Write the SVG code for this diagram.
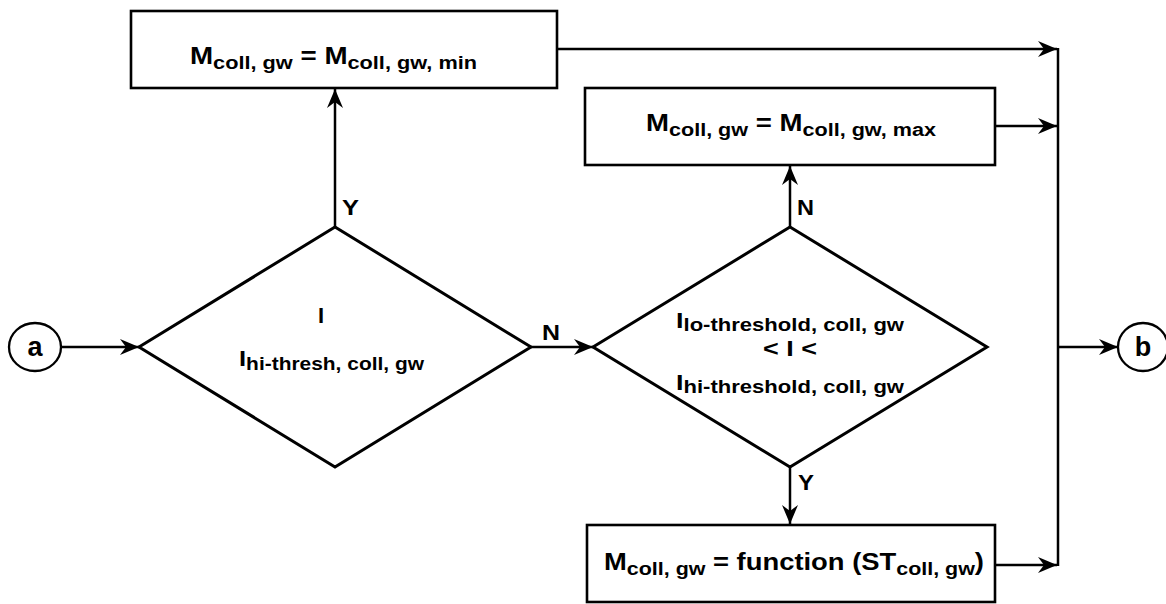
<svg xmlns="http://www.w3.org/2000/svg" width="1166" height="604" viewBox="0 0 1166 604">
  <style>
    .box { fill: #fff; stroke: #000; stroke-width: 2.6; }
    .dia { fill: none; stroke: #000; stroke-width: 3; stroke-linejoin: miter; }
    .conn { fill: none; stroke: #000; stroke-width: 2.5; }
    .term { fill: #fff; stroke: #000; stroke-width: 2.3; }
    .t { font-family: "Liberation Sans", Arial, Helvetica, sans-serif; font-weight: bold; fill: #000; }
    .m { font-size: 23px; }
    .d { font-size: 22px; }
    .s { font-size: 18px; }
    .lbl { font-size: 22px; }
    .c { font-size: 27px; text-anchor: middle; }
  </style>
  <defs>
    <marker id="ah" viewBox="-20 -9 21 18" refX="0" refY="0" markerWidth="21" markerHeight="18" markerUnits="userSpaceOnUse" orient="auto">
      <path d="M0,0 L-19,-8 L-13,0 L-19,8 Z" fill="#000"/>
    </marker>
  </defs>

  <rect width="1166" height="604" fill="#fff"/>

  <!-- flow lines and branch labels -->
  <g id="connectors">
    <path class="conn" d="M61,347 H139" marker-end="url(#ah)"/>
    <path class="conn" d="M335,227 V89" marker-end="url(#ah)"/>
    <path class="conn" d="M531,347 H593" marker-end="url(#ah)"/>
    <path class="conn" d="M790,227 V166" marker-end="url(#ah)"/>
    <path class="conn" d="M790,467 V524" marker-end="url(#ah)"/>
    <path class="conn" d="M557,49 H1057" marker-end="url(#ah)"/>
    <path class="conn" d="M995,126 H1057" marker-end="url(#ah)"/>
    <path class="conn" d="M995,565 H1057" marker-end="url(#ah)"/>
    <path class="conn" d="M1058,48 V566" stroke-width="2.8"/>
    <path class="conn" d="M1058,347 H1118" marker-end="url(#ah)"/>
    <text class="t lbl" x="342" y="215" textLength="17" lengthAdjust="spacingAndGlyphs">Y</text>
    <text class="t lbl" x="797" y="215" textLength="17" lengthAdjust="spacingAndGlyphs">N</text>
    <text class="t lbl" x="542" y="340" textLength="18" lengthAdjust="spacingAndGlyphs">N</text>
    <text class="t lbl" x="798" y="490" textLength="16" lengthAdjust="spacingAndGlyphs">Y</text>
  </g>

  <!-- entry connector a -->
  <g id="node-a">
    <ellipse class="term" cx="35" cy="347" rx="26" ry="24"/>
    <text class="t c" x="35" y="356">a</text>
  </g>

  <!-- exit connector b -->
  <g id="node-b">
    <ellipse class="term" cx="1143" cy="347" rx="25" ry="24"/>
    <text class="t c" x="1143" y="356">b</text>
  </g>

  <!-- upper threshold test -->
  <g id="decision-hi">
    <polygon class="dia" points="139,347 335,227 531,347 335,467"/>
    <text class="t d" x="321" y="323" text-anchor="middle">I</text>
    <text class="t d" x="239" y="366" textLength="185" lengthAdjust="spacingAndGlyphs">I<tspan class="s" dy="4">hi-thresh, coll, gw</tspan></text>
  </g>

  <!-- band test -->
  <g id="decision-band">
    <polygon class="dia" points="593,347 790,227 987,347 790,467"/>
    <text class="t d" x="676" y="328" textLength="228" lengthAdjust="spacingAndGlyphs">I<tspan class="s" dy="3">lo-threshold, coll, gw</tspan></text>
    <text class="t d" x="763" y="356" textLength="54" lengthAdjust="spacingAndGlyphs">&lt; I &lt;</text>
    <text class="t d" x="676" y="390" textLength="228" lengthAdjust="spacingAndGlyphs">I<tspan class="s" dy="3">hi-threshold, coll, gw</tspan></text>
  </g>

  <!-- minimum setting -->
  <g id="set-min">
    <rect class="box" x="131" y="11" width="426" height="77"/>
    <text class="t m" x="190" y="64" textLength="287" lengthAdjust="spacingAndGlyphs">M<tspan class="s" dy="5">coll, gw</tspan><tspan dy="-5"> = M</tspan><tspan class="s" dy="5">coll, gw, min</tspan></text>
  </g>

  <!-- maximum setting -->
  <g id="set-max">
    <rect class="box" x="585" y="88" width="410" height="77"/>
    <text class="t m" x="646" y="131" textLength="290" lengthAdjust="spacingAndGlyphs">M<tspan class="s" dy="5">coll, gw</tspan><tspan dy="-5"> = M</tspan><tspan class="s" dy="5">coll, gw, max</tspan></text>
  </g>

  <!-- computed setting -->
  <g id="set-function">
    <rect class="box" x="587" y="525" width="408" height="77"/>
    <text class="t m" x="604" y="570" textLength="380" lengthAdjust="spacingAndGlyphs">M<tspan class="s" dy="5">coll, gw</tspan><tspan dy="-5"> = function (ST</tspan><tspan class="s" dy="5">coll, gw</tspan><tspan dy="-5">)</tspan></text>
  </g>
</svg>
